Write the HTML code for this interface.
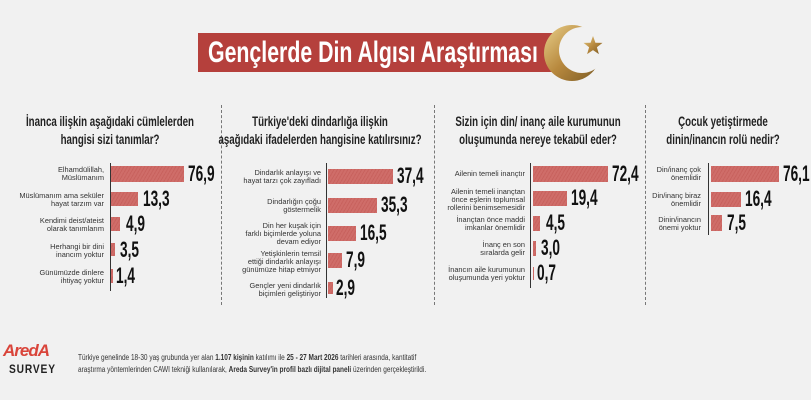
<!DOCTYPE html>
<html><head><meta charset="utf-8"><style>
*{margin:0;padding:0;box-sizing:border-box}
body{width:811px;height:400px;overflow:hidden;background:#f1f1f1;position:relative;font-family:"Liberation Sans",sans-serif;color:#1a1a1a}
.a{position:absolute}
.banner{left:198px;top:33px;width:360px;height:39px;background:#b5403c}
.banner span{position:absolute;left:10px;top:0;color:#fff;font-weight:bold;font-size:30px;line-height:39px;white-space:nowrap;transform:scaleX(.71);transform-origin:left center}
.t{font-weight:bold;font-size:13.5px;line-height:18px;text-align:center;color:#222;white-space:nowrap;transform:scaleX(.72);transform-origin:center top}
.lbl{font-size:7.4px;line-height:8px;text-align:right;color:#333}
.bar{background:repeating-linear-gradient(120deg,#cf6d69 0 2px,#c8625e 2px 3px);height:15px}
.v{font-weight:bold;font-size:22px;line-height:16px;color:#111;white-space:nowrap;transform:scaleX(.62);transform-origin:left center}
.ax{width:1px;background:#333}
.sep{width:0;border-left:1px dashed #777}
.foot{font-size:8px;line-height:12px;color:#333;white-space:nowrap;transform:scaleX(.81);transform-origin:left top}
</style></head><body>
<div class="a banner"><span>Gençlerde Din Algısı Araştırması</span></div>
<svg class="a" style="left:540px;top:18px" width="80" height="75" viewBox="540 18 80 75">
<defs><linearGradient id="g" x1="0" y1="0" x2="1" y2="1"><stop offset="0" stop-color="#e8cf8a"/><stop offset=".5" stop-color="#b8893e"/><stop offset="1" stop-color="#7a5a24"/></linearGradient>
<mask id="m"><rect x="540" y="18" width="80" height="75" fill="#fff"/><circle cx="582" cy="50" r="23" fill="#000"/></mask></defs>
<circle cx="572" cy="53" r="28" fill="url(#g)" mask="url(#m)"/>
<polygon points="593,36 595.4,42.7 602.5,42.9 596.9,47.3 598.9,54.1 593,50.1 587.1,54.1 589.1,47.3 583.5,42.9 590.6,42.7" fill="url(#g)"/>
</svg>

<div class="a sep" style="left:221px;top:105px;height:200px"></div>
<div class="a sep" style="left:434px;top:105px;height:200px"></div>
<div class="a sep" style="left:645px;top:105px;height:200px"></div>

<!-- panel 1 -->
<div class="a t" style="left:-40px;top:113px;width:300px">İnanca ilişkin aşağıdaki cümlelerden<br>hangisi sizi tanımlar?</div>
<div class="a ax" style="left:110px;top:163px;height:128px"></div>
<div class="a lbl" style="left:0;top:166px;width:104px">Elhamdülillah,<br>Müslümanım</div>
<div class="a bar" style="left:111px;top:166px;width:73px;height:16px"></div><div class="a v" style="left:188px;top:166px">76,9</div>
<div class="a lbl" style="left:0;top:192px;width:104px">Müslümanım ama seküler<br>hayat tarzım var</div>
<div class="a bar" style="left:111px;top:192px;width:27px;height:14px"></div><div class="a v" style="left:143px;top:191px">13,3</div>
<div class="a lbl" style="left:0;top:217px;width:104px">Kendimi deist/ateist<br>olarak tanımlarım</div>
<div class="a bar" style="left:111px;top:217px;width:9px;height:14px"></div><div class="a v" style="left:126px;top:216px">4,9</div>
<div class="a lbl" style="left:0;top:243px;width:104px">Herhangi bir dini<br>inancım yoktur</div>
<div class="a bar" style="left:111px;top:243px;width:4px;height:13px"></div><div class="a v" style="left:120px;top:242px">3,5</div>
<div class="a lbl" style="left:0;top:269px;width:104px">Günümüzde dinlere<br>ihtiyaç yoktur</div>
<div class="a bar" style="left:111px;top:269px;width:2px;height:14px"></div><div class="a v" style="left:116px;top:268px">1,4</div>

<!-- panel 2 -->
<div class="a t" style="left:170px;top:113px;width:300px">Türkiye'deki dindarlığa ilişkin<br>aşağıdaki ifadelerden hangisine katılırsınız?</div>
<div class="a ax" style="left:326px;top:163px;height:135px"></div>
<div class="a lbl" style="left:220px;top:169px;width:101px">Dindarlık anlayışı ve<br>hayat tarzı çok zayıfladı</div>
<div class="a bar" style="left:328px;top:169px;width:65px"></div><div class="a v" style="left:397px;top:168px">37,4</div>
<div class="a lbl" style="left:220px;top:198px;width:101px">Dindarlığın çoğu<br>göstermelik</div>
<div class="a bar" style="left:328px;top:198px;width:49px"></div><div class="a v" style="left:381px;top:197px">35,3</div>
<div class="a lbl" style="left:220px;top:222px;width:101px">Din her kuşak için<br>farklı biçimlerde yoluna<br>devam ediyor</div>
<div class="a bar" style="left:328px;top:226px;width:28px"></div><div class="a v" style="left:360px;top:225px">16,5</div>
<div class="a lbl" style="left:220px;top:250px;width:101px">Yetişkinlerin temsil<br>ettiği dindarlık anlayışı<br>günümüze hitap etmiyor</div>
<div class="a bar" style="left:328px;top:253px;width:14px"></div><div class="a v" style="left:346px;top:252px">7,9</div>
<div class="a lbl" style="left:220px;top:282px;width:101px">Gençler yeni dindarlık<br>biçimleri geliştiriyor</div>
<div class="a bar" style="left:328px;top:282px;width:5px;height:12px"></div><div class="a v" style="left:336px;top:280px">2,9</div>

<!-- panel 3 -->
<div class="a t" style="left:388px;top:113px;width:300px">Sizin için din/ inanç aile kurumunun<br>oluşumunda nereye tekabül eder?</div>
<div class="a ax" style="left:530px;top:163px;height:125px"></div>
<div class="a lbl" style="left:420px;top:170px;width:105px">Ailenin temeli inançtır</div>
<div class="a bar" style="left:533px;top:166px;width:75px;height:16px"></div><div class="a v" style="left:612px;top:166px">72,4</div>
<div class="a lbl" style="left:420px;top:188px;width:105px">Ailenin temeli inançtan<br>önce eşlerin toplumsal<br>rollerini benimsemesidir</div>
<div class="a bar" style="left:533px;top:191px;width:34px"></div><div class="a v" style="left:571px;top:190px">19,4</div>
<div class="a lbl" style="left:420px;top:216px;width:105px">İnançtan önce maddi<br>imkanlar önemlidir</div>
<div class="a bar" style="left:533px;top:216px;width:7px"></div><div class="a v" style="left:546px;top:215px">4,5</div>
<div class="a lbl" style="left:420px;top:241px;width:105px">İnanç en son<br>sıralarda gelir</div>
<div class="a bar" style="left:533px;top:241px;width:3px"></div><div class="a v" style="left:541px;top:240px">3,0</div>
<div class="a lbl" style="left:420px;top:266px;width:105px">İnancın aile kurumunun<br>oluşumunda yeri yoktur</div>
<div class="a bar" style="left:533px;top:267px;width:1px;height:13px"></div><div class="a v" style="left:537px;top:265px">0,7</div>

<!-- panel 4 -->
<div class="a t" style="left:573px;top:113px;width:300px">Çocuk yetiştirmede<br>dinin/inancın rolü nedir?</div>
<div class="a ax" style="left:708px;top:163px;height:72px"></div>
<div class="a lbl" style="left:630px;top:166px;width:71px">Din/inanç çok<br>önemlidir</div>
<div class="a bar" style="left:711px;top:166px;width:68px;height:16px"></div><div class="a v" style="left:783px;top:166px">76,1</div>
<div class="a lbl" style="left:630px;top:192px;width:71px">Din/inanç biraz<br>önemlidir</div>
<div class="a bar" style="left:711px;top:192px;width:30px"></div><div class="a v" style="left:745px;top:191px">16,4</div>
<div class="a lbl" style="left:630px;top:216px;width:71px">Dinin/inancın<br>önemi yoktur</div>
<div class="a bar" style="left:711px;top:215px;width:11px;height:16px"></div><div class="a v" style="left:727px;top:215px">7,5</div>

<!-- footer -->
<div class="a" style="left:3px;top:342px;width:62px;font-weight:bold;font-style:italic;font-size:17px;color:#d9443a;letter-spacing:-1px;line-height:18px">AredA</div>
<div class="a" style="left:9px;top:362px;font-weight:bold;font-size:12px;letter-spacing:1px;color:#222;transform:scaleX(.85);transform-origin:left top">SURVEY</div>
<div class="a foot" style="left:78px;top:352px">Türkiye genelinde 18-30 yaş grubunda yer alan <b>1.107 kişinin</b> katılımı ile <b>25 - 27 Mart 2026</b> tarihleri arasında, kantitatif<br>araştırma yöntemlerinden CAWI tekniği kullanılarak, <b>Areda Survey'in profil bazlı dijital paneli</b> üzerinden gerçekleştirildi.</div>
</body></html>
